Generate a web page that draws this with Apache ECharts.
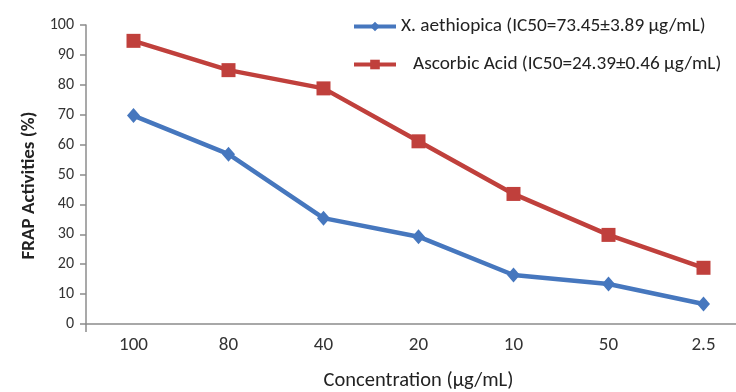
<!DOCTYPE html>
<html>
<head>
<meta charset="utf-8">
<script src="https://cdn.jsdelivr.net/npm/echarts@6/dist/echarts.min.js"></script>
<style>
  html, body { margin: 0; padding: 0; background: #fff; }
  #myChart { width: 736px; height: 392px; }
</style>
</head>
<body>
<div id="myChart"></div>
<script>
  // concentrations as shown on the axis (µg/mL)
  var concentrations = ['100', '80', '40', '20', '10', '50', '2.5']
  var yTicks = [0, 100, 10]   // min, max, interval
  var xAethiopica = [69.7, 56.8, 35.4, 29.2, 16.4, 13.4, 6.7]
  var ascorbicAcid = [94.7, 84.9, 78.8, 61.1, 43.5, 29.8, 18.8]
  var nameBlue = 'X. aethiopica (IC50=73.45±3.89 µg/mL)'
  var nameRed = 'Ascorbic Acid (IC50=24.39±0.46 µg/mL)'

  var font = 'Carlito, "Liberation Sans Narrow", Lato, sans-serif'
  var blue = '#4677be'
  var red = '#c0403c'

  var myCharts = echarts.init(document.getElementById('myChart'))
  myCharts.setOption({
    animation: false,
    textStyle: {fontFamily: font},
    legend: [{
      data: [nameBlue],
      left: 347,
      top: 12,
      itemWidth: 42,
      itemHeight: 12,
      lineStyle: {width: 4},
      textStyle: {fontSize: 19.3, color: '#222', fontFamily: font}
    }, {
      data: [nameRed],
      left: 347,
      top: 50,
      itemWidth: 42,
      itemHeight: 12,
      lineStyle: {width: 4},
      textStyle: {fontSize: 19.3, color: '#222', fontFamily: font, padding: [0, 0, 0, 12]}
    }],
    grid: {
      left: 86,
      width: 665,
      top: 25,
      bottom: 68,
      outerBoundsMode: 'none'
    },
    xAxis: {
      type: 'category',
      boundaryGap: true,
      data: concentrations,
      name: 'Concentration (µg/mL)',
      nameLocation: 'middle',
      nameGap: 46,
      nameTextStyle: {fontSize: 20.5, color: '#222', fontFamily: font},
      axisLine: {lineStyle: {color: '#8c8c8c', width: 1.5}},
      axisTick: {
        show: true,
        length: 8,
        interval: function (i) { return i === 0 },
        lineStyle: {color: '#8c8c8c', width: 1.5}
      },
      axisLabel: {fontSize: 19, color: '#333', margin: 12, fontFamily: font}
    },
    yAxis: {
      type: 'value',
      min: yTicks[0],
      max: yTicks[1],
      interval: yTicks[2],
      name: 'FRAP Activities (%)',
      nameLocation: 'middle',
      nameRotate: 90,
      nameGap: 47,
      nameTextStyle: {fontSize: 19, fontWeight: 'bold', color: '#222', fontFamily: font, padding: [0, 22, 0, 0]},
      splitLine: {show: false},
      axisLine: {show: true, lineStyle: {color: '#8c8c8c', width: 1.5}},
      axisTick: {show: true, length: 6, lineStyle: {color: '#8c8c8c', width: 1.5}},
      axisLabel: {fontSize: 16, color: '#333', margin: 12, fontFamily: font}
    },
    series: [{
      name: nameBlue,
      type: 'line',
      data: xAethiopica,
      symbol: 'diamond',
      symbolSize: [13, 15],
      color: blue,
      lineStyle: {width: 4.5, color: blue},
      itemStyle: {color: blue}
    }, {
      name: nameRed,
      type: 'line',
      data: ascorbicAcid,
      symbol: 'rect',
      symbolSize: 14,
      color: red,
      lineStyle: {width: 4.5, color: red},
      itemStyle: {color: red}
    }]
  })
</script>
</body>
</html>
